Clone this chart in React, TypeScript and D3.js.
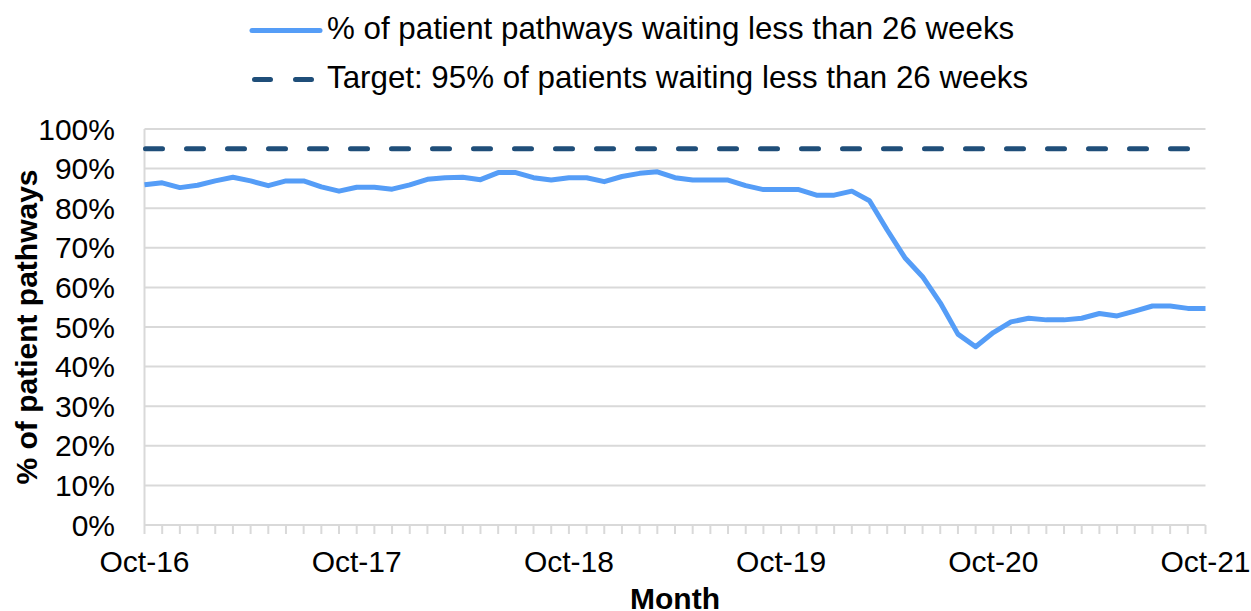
import React from "react";
import * as d3 from "d3";

const tickLabels = ["Oct-16", "Oct-17", "Oct-18", "Oct-19", "Oct-20", "Oct-21"];
const yTicks = [0, 10, 20, 30, 40, 50, 60, 70, 80, 90, 100];
const seriesName = "% of patient pathways waiting less than 26 weeks";
const targetName = "Target: 95% of patients waiting less than 26 weeks";
const targetValue = 95;
// monthly values, Oct-16 .. Oct-21
const pathwayValues = [
  85.9, 86.4, 85.2, 85.8, 86.9, 87.8, 86.9, 85.7, 86.9, 86.9, 85.4, 84.3,
  85.3, 85.3, 84.8, 85.9, 87.3, 87.7, 87.8, 87.2, 89.0, 89.0, 87.7, 87.1,
  87.7, 87.7, 86.7, 88.0, 88.8, 89.2, 87.7, 87.1, 87.1, 87.1, 85.7, 84.7,
  84.7, 84.7, 83.3, 83.3, 84.3, 81.9, 74.5, 67.5, 62.7, 56.1, 48.2, 45.0,
  48.6, 51.3, 52.2, 51.8, 51.8, 52.2, 53.4, 52.8, 54.0, 55.3, 55.3, 54.7,
  54.7,
];

const W = 1251;
const H = 611;
const L = 144.5;
const R = 1205.5;
const T = 129;
const B = 525;
const FONT = "'Liberation Sans', Arial, sans-serif";
const BLUE = "#559df7";
const NAVY = "#1f4e79";
const GRID = "#d9d9d9";

export default function App() {
  const n = pathwayValues.length;
  const x = d3.scaleLinear().domain([0, n - 1]).range([L, R]);
  const y = d3.scaleLinear().domain([0, 100]).range([B, T]);
  const line = d3
    .line<number>()
    .x((_, i) => x(i))
    .y((d) => y(d));
  const monthIdx = d3.range(n);

  return (
    <svg
      width={W}
      height={H}
      style={{ position: "absolute", left: 0, top: 0, background: "#fff" }}
      fontFamily={FONT}
    >
      {/* legend */}
      <line x1={252} x2={320} y1={30.5} y2={30.5} stroke={BLUE} strokeWidth={5} strokeLinecap="round" />
      <text x={327} y={39} fontSize={31.3} fill="#000">{seriesName}</text>
      <line
        x1={254.5}
        x2={318}
        y1={79.5}
        y2={79.5}
        stroke={NAVY}
        strokeWidth={5}
        strokeLinecap="round"
        strokeDasharray="16 25"
      />
      <text x={327} y={88} fontSize={31.3} fill="#000">{targetName}</text>

      {/* gridlines */}
      {yTicks.map((t) => (
        <line key={t} x1={L} x2={R} y1={y(t)} y2={y(t)} stroke={GRID} strokeWidth={2} />
      ))}
      <line x1={L} x2={L} y1={T} y2={B} stroke={GRID} strokeWidth={2} />
      {/* x ticks */}
      {monthIdx.map((i) => (
        <line key={i} x1={x(i)} x2={x(i)} y1={B} y2={B + 9} stroke={GRID} strokeWidth={2} />
      ))}

      {/* y tick labels */}
      {yTicks.map((t) => (
        <text key={t} x={115} y={y(t)} dy="0.35em" textAnchor="end" fontSize={30} fill="#000">
          {t}%
        </text>
      ))}
      {/* x tick labels */}
      {tickLabels.map((lab, k) => (
        <text key={lab} x={x(k * 12)} y={572} textAnchor="middle" fontSize={30} fill="#000">
          {lab}
        </text>
      ))}

      {/* axis titles */}
      <text x={(L + R) / 2} y={608.5} textAnchor="middle" fontSize={30} fontWeight="bold" fill="#000">
        Month
      </text>
      <text
        transform={`translate(37,${(T + B) / 2}) rotate(-90)`}
        textAnchor="middle"
        fontSize={30}
        fontWeight="bold"
        fill="#000"
      >
        % of patient pathways
      </text>

      {/* target line */}
      <line
        x1={L + 1}
        x2={R}
        y1={y(targetValue)}
        y2={y(targetValue)}
        stroke={NAVY}
        strokeWidth={5}
        strokeLinecap="round"
        strokeDasharray="17 24"
      />
      {/* series */}
      <path d={line(pathwayValues) || ""} fill="none" stroke={BLUE} strokeWidth={5} strokeLinejoin="round" />
    </svg>
  );
}
